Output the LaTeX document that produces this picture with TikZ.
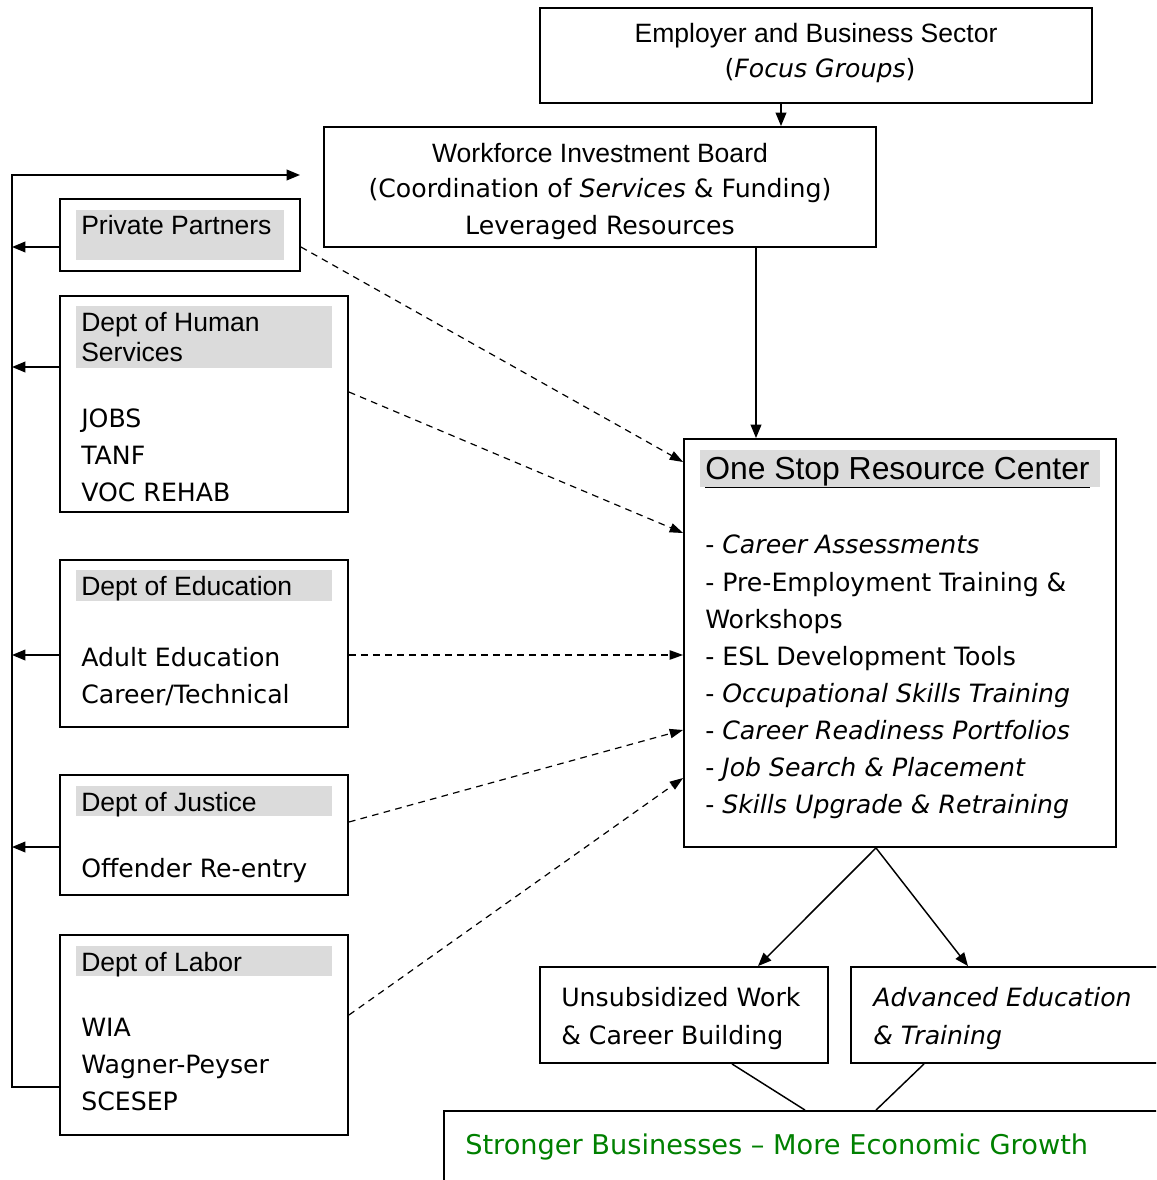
\documentclass[tikz,border=0pt]{standalone}
\usepackage{fontspec}
\setmainfont{Liberation Sans}
\newfontfamily\comic[Ligatures=TeX]{DejaVu Sans}
\usetikzlibrary{arrows.meta,fit,calc}
\begin{document}
\begin{tikzpicture}[x=0.75pt,y=-0.75pt,
  box/.style={draw, line width=1.4pt, inner sep=0pt},
  hdr/.style={fill=black!14, draw=none},
  arl/.style={font=\fontsize{19.9}{27.75}\selectfont, anchor=base west, inner sep=0pt},
  cms/.style={font=\comic\fontsize{18.9}{27.75}\selectfont, anchor=base west, inner sep=0pt},
  conn/.style={line width=1.1pt, -{Triangle[length=10pt,width=8pt]}},
  plain/.style={line width=1.1pt},
  dsh/.style={line width=0.9pt, dash pattern=on 5pt off 4pt, -{Triangle[length=10pt,width=7pt]}}
]
\useasboundingbox (0,0) rectangle (1156,1180);
\clip (0,0) rectangle (1156,1180);

% boxes
\node[box, fit={(540,8) (1092,103)}] (emp) {};
\node[box, fit={(324,127) (876,247)}] (wib) {};
\node[box, fit={(60,199) (300,271)}] (pp) {};
\node[box, fit={(60,296) (348,512)}] (dhs) {};
\node[box, fit={(60,560) (348,727)}] (edu) {};
\node[box, fit={(60,775) (348,895)}] (jus) {};
\node[box, fit={(60,935) (348,1135)}] (lab) {};
\node[box, fit={(684,439) (1116,847)}] (os) {};
\node[box, fit={(540,967) (828,1063)}] (uns) {};
\node[box, fit={(851,967) (1170,1063)}] (adv) {};
\node[box, fit={(444,1111) (1170,1195)}] (str) {};

% gray headers
\fill[hdr] (76,210) rectangle (284,260);
\fill[hdr] (76,306) rectangle (332,368);
\fill[hdr] (76,570) rectangle (332,601);
\fill[hdr] (76,786) rectangle (332,816);
\fill[hdr] (76,946) rectangle (332,976);
\fill[hdr] (700,450) rectangle (1100,487);

% texts
\node[arl, anchor=base] (t1) at (816,43) {Employer and Business Sector};
\node[cms, anchor=base] (t2) at (820,78) {(\textit{Focus Groups})};
\node[arl, anchor=base] (t3) at (600,163) {Workforce Investment Board};
\node[cms, anchor=base] (t4) at (600,198) {(Coordination of \textit{Services} \& Funding)};
\node[cms, anchor=base] (t5) at (600,235) {Leveraged Resources};

\node[arl] (t6) at (81,235) {Private Partners};
\node[arl] (t7) at (81,331) {Dept of Human};
\node[arl] (t8) at (81,361) {Services};
\node[cms] (t9) at (81,427) {JOBS};
\node[cms] (t10) at (81,464) {TANF};
\node[cms] (t11) at (81,501) {VOC REHAB};
\node[arl] (t12) at (81,595) {Dept of Education};
\node[cms] (t13) at (81,666) {Adult Education};
\node[cms] (t14) at (81,703) {Career/Technical};
\node[arl] (t15) at (81,811) {Dept of Justice};
\node[cms] (t16) at (81,877) {Offender Re-entry};
\node[arl] (t17) at (81,971) {Dept of Labor};
\node[cms] (t18) at (81,1036) {WIA};
\node[cms] (t19) at (81,1073) {Wagner-Peyser};
\node[cms] (t20) at (81,1110) {SCESEP};

\node[arl, font=\fontsize{23.9}{30}\selectfont] (t21) at (705,479) {\underline{One Stop Resource Center}};
\node[cms] (t22) at (705,553) {- \textit{Career Assessments}};
\node[cms] (t23) at (705,591) {- Pre-Employment Training \&};
\node[cms] (t24) at (705,628) {Workshops};
\node[cms] (t25) at (705,665) {- ESL Development Tools};
\node[cms] (t26) at (705,702) {- \textit{Occupational Skills Training}};
\node[cms] (t27) at (705,739) {- \textit{Career Readiness Portfolios}};
\node[cms] (t28) at (705,776) {- \textit{Job Search \& Placement}};
\node[cms] (t29) at (705,813) {- \textit{Skills Upgrade \& Retraining}};

\node[cms] (t30) at (561,1006) {Unsubsidized Work};
\node[cms] (t31) at (561,1044) {\& Career Building};
\node[cms] (t32) at (873,1006) {\textit{Advanced Education}};
\node[cms] (t33) at (873,1044) {\textit{\& Training}};
\node[cms, font=\comic\fontsize{20.4}{27.75}\selectfont, text={rgb,255:red,0;green,128;blue,0}] (t34) at (465,1154) {Stronger Businesses – More Economic Growth};

% connectors
\coordinate (e1) at ($(emp.south)+(-35,0)$);
\draw[conn] (e1) -- (e1 |- wib.north);
\coordinate (w1) at ($(wib.south)+(156,0)$);
\draw[conn] (w1) -- (w1 |- os.north);

% feedback loop
\coordinate (lx) at (12,0);
\coordinate (lstart) at ($(lab.west)+(0,52)$);
\coordinate (ftop) at (300,175);
\draw[conn] (lstart) -- (lx |- lstart) -- (lx |- ftop) -- (ftop);
\foreach \n/\o in {pp/12, dhs/-37, edu/11.5, jus/12}{
  \coordinate (a-\n) at ($(\n.west)+(0,\o)$);
  \draw[conn] (a-\n) -- (lx |- a-\n);
}

% dashed arrows
\draw[dsh] ($(pp.east)+(0,12)$) -- ($(os.west)+(0,-181)$);
\draw[dsh] ($(dhs.east)+(0,-12)$) -- ($(os.west)+(0,-110)$);
\draw[dsh] ($(edu.east)+(0,11.5)$) -- ($(os.west)+(0,12)$);
\draw[dsh] ($(jus.east)+(0,-13)$) -- ($(os.west)+(0,87)$);
\draw[dsh] ($(lab.east)+(0,-20)$) -- ($(os.west)+(0,135)$);

% outcomes
\coordinate (o1) at ($(os.south)+(-24,0)$);
\draw[conn] (o1) -- ($(uns.north)+(74,0)$);
\draw[conn] (o1) -- ($(adv.north)+(-42.5,0)$);
\draw[plain] ($(uns.south)+(48,0)$) -- ($(str.north)+(-2,0)$);
\draw[plain] ($(adv.south)+(-86.5,0)$) -- ($(str.north)+(69,0)$);
\end{tikzpicture}
\end{document}
